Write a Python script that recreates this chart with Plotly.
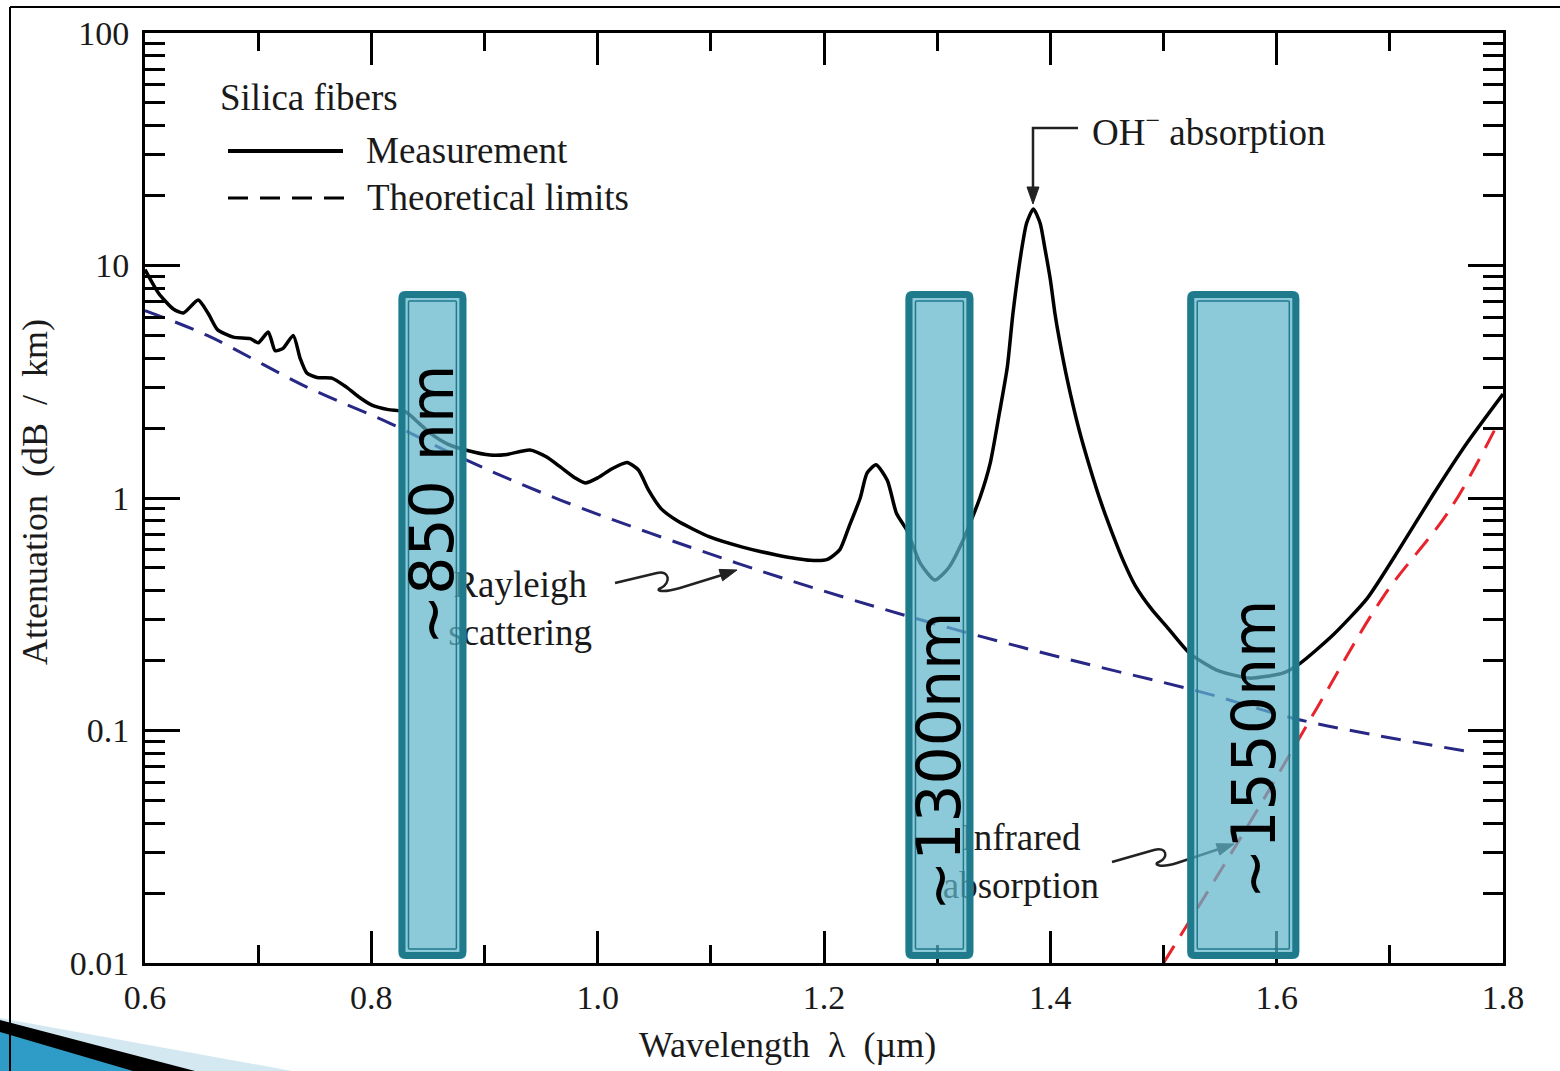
import math
import plotly.graph_objects as go

# ---------------- data ----------------
meas_wl = [0.600, 0.612, 0.625, 0.634, 0.647, 0.656, 0.664, 0.678, 0.693, 0.700, 0.709, 0.715,
           0.722, 0.731, 0.737, 0.743, 0.752, 0.765, 0.778, 0.790, 0.801, 0.815, 0.830, 0.842,
           0.852, 0.868, 0.885, 0.905, 0.920, 0.940, 0.955, 0.967, 0.980, 0.989, 1.000, 1.012,
           1.026, 1.036, 1.045, 1.056, 1.070, 1.099, 1.128, 1.158, 1.188, 1.203, 1.214, 1.222,
           1.232, 1.238, 1.246, 1.256, 1.264, 1.273, 1.285, 1.298, 1.310, 1.323, 1.338, 1.347,
           1.355, 1.362, 1.367, 1.375, 1.379, 1.385, 1.391, 1.395, 1.400, 1.404, 1.408, 1.415,
           1.425, 1.435, 1.445, 1.455, 1.465, 1.475, 1.490, 1.503, 1.523, 1.547, 1.576, 1.606,
           1.621, 1.650, 1.680, 1.709, 1.738, 1.768, 1.800]
meas_att = [9.6, 7.6, 6.5, 6.25, 7.1, 6.2, 5.3, 4.92, 4.85, 4.65, 5.17, 4.3,
            4.4, 5.0, 4.0, 3.45, 3.3, 3.28, 3.0, 2.7, 2.5, 2.4, 2.35, 2.1,
            1.9, 1.7, 1.6, 1.53, 1.54, 1.61, 1.5, 1.36, 1.22, 1.16, 1.22, 1.33,
            1.42, 1.32, 1.08, 0.9, 0.8, 0.68, 0.615, 0.569, 0.54, 0.545, 0.6, 0.75,
            1.0, 1.28, 1.39, 1.19, 0.86, 0.73, 0.525, 0.444, 0.5, 0.66, 1.01, 1.42,
            2.32, 3.66, 6.25, 12.0, 15.2, 17.5, 15.2, 12.0, 8.7, 6.25, 4.8, 3.22,
            2.0, 1.35, 0.95, 0.7, 0.53, 0.42, 0.33, 0.279, 0.215, 0.182, 0.168, 0.177,
            0.195, 0.258, 0.37, 0.61, 1.03, 1.72, 2.8]

rayleigh_wl = [0.600, 0.655, 0.743, 0.816, 0.878, 0.967, 1.123, 1.217, 1.302, 1.420, 1.532, 1.621, 1.771]
rayleigh_att = [6.4, 5.0, 3.0, 2.1, 1.5, 0.98, 0.525, 0.375, 0.284, 0.2, 0.147, 0.111, 0.081]

infrared_wl = [1.500, 1.576, 1.636, 1.694, 1.753, 1.797]
infrared_att = [0.01, 0.040, 0.126, 0.375, 0.89, 2.16]

x_ticks = [0.6, 0.8, 1.0, 1.2, 1.4, 1.6, 1.8]
x_ticklabels = ["0.6", "0.8", "1.0", "1.2", "1.4", "1.6", "1.8"]
x_minor = [0.7, 0.9, 1.1, 1.3, 1.5, 1.7]
y_ticks = [0.01, 0.1, 1, 10, 100]
y_ticklabels = ["0.01", "0.1", "1", "10", "100"]
y_minor = [m * d for d in (0.01, 0.1, 1, 10) for m in range(2, 10)]

window_labels = ["~850 nm", "~1300nm", "~1550nm"]
window_start = [0.824, 1.272, 1.521]
window_end = [0.884, 1.332, 1.620]

# ---------------- geometry helpers ----------------
W, H = 1560, 1071
L, R, T, B = 145, 57, 33, 108
PW, PH = W - L - R, H - T - B
X0, X1 = 0.6, 1.8
DX = (X1 - X0) / PW  # data units per pixel


def px(x):
    return (x - L) / PW


def py(y):
    return (H - B - y) / PH


def ppath(cmds):
    out = []
    for c, pts in cmds:
        s = c + " ".join(f"{px(a):.5f},{py(b):.5f}" for a, b in pts)
        out.append(s)
    return " ".join(out)


def head(tip, frm, length=17, half=6):
    ux, uy = tip[0] - frm[0], tip[1] - frm[1]
    n = math.hypot(ux, uy)
    ux, uy = ux / n, uy / n
    bx, by = tip[0] - length * ux, tip[1] - length * uy
    p1 = (bx - half * uy, by + half * ux)
    p2 = (bx + half * uy, by - half * ux)
    return ppath([("M", [tip]), ("L", [p1]), ("L", [p2])]) + " Z"


def rrect(x0, x1, y0, y1, inset_px, r_px):
    ix, iy = inset_px * DX, inset_px / PH
    x0, x1, y0, y1 = x0 + ix, x1 - ix, y0 + iy, y1 - iy
    rx, ry = r_px * DX, r_px / PH
    return (f"M{x0+rx},{y0} L{x1-rx},{y0} Q{x1},{y0} {x1},{y0+ry} L{x1},{y1-ry} "
            f"Q{x1},{y1} {x1-rx},{y1} L{x0+rx},{y1} Q{x0},{y1} {x0},{y1-ry} "
            f"L{x0},{y0+ry} Q{x0},{y0} {x0+rx},{y0} Z")


SERIF = "Liberation Serif"
TXT = "#1a1a1a"

fig = go.Figure()

# labels that sit underneath the highlight boxes
fig.add_trace(go.Scatter(x=[0.9315], y=[0.3235], mode="text", text=["Rayleigh<br>scattering"],
                         textfont=dict(family=SERIF, size=37, color=TXT), showlegend=False,
                         hoverinfo="skip"))
fig.add_trace(go.Scatter(x=[1.3740], y=[0.02642], mode="text", text=["Infrared<br>absorption"],
                         textfont=dict(family=SERIF, size=37, color=TXT), showlegend=False,
                         hoverinfo="skip"))

fig.add_trace(go.Scatter(x=rayleigh_wl, y=rayleigh_att, mode="lines", showlegend=False,
                         line=dict(color="#272785", width=3, dash="20px,12px", shape="spline")))
fig.add_trace(go.Scatter(x=infrared_wl, y=infrared_att, mode="lines", showlegend=False,
                         line=dict(color="#e8232b", width=3, dash="20px,12px", shape="spline")))
fig.add_trace(go.Scatter(x=meas_wl, y=meas_att, mode="lines", showlegend=False,
                         line=dict(color="black", width=3.5, shape="spline", smoothing=0.6)))

shapes = []
K = dict(xref="paper", yref="paper")

# wavy arrows
ray_path = ppath([("M", [(615, 583)]), ("L", [(657, 573)]),
                  ("C", [(670, 570), (671, 583), (661, 588)]),
                  ("C", [(654, 591), (663, 593), (680, 588)]),
                  ("L", [(722, 575)])])
shapes.append(dict(type="path", path=ray_path, line=dict(color="#222", width=2.5), **K))
shapes.append(dict(type="path", path=head((737, 570), (680, 588)), fillcolor="#222",
                   line=dict(color="#222", width=1), **K))
ir_path = ppath([("M", [(1112, 862)]), ("L", [(1154, 850)]),
                 ("C", [(1167, 846), (1169, 858), (1159, 862)]),
                 ("C", [(1152, 865), (1161, 868), (1177, 863)]),
                 ("L", [(1219, 849)])])
shapes.append(dict(type="path", path=ir_path, line=dict(color="#222", width=2.5), **K))
shapes.append(dict(type="path", path=head((1234, 844), (1177, 863)), fillcolor="#222",
                   line=dict(color="#222", width=1), **K))

# OH arrow
shapes.append(dict(type="path", path=ppath([("M", [(1078, 128)]), ("L", [(1033, 128)]),
                                            ("L", [(1033, 188)])]),
                   line=dict(color="#222", width=2.5), **K))
shapes.append(dict(type="path", path=head((1033, 204), (1033, 150)), fillcolor="#222",
                   line=dict(color="#222", width=1), **K))

# legend keys
shapes.append(dict(type="line", x0=px(228), x1=px(343), y0=py(151), y1=py(151),
                   line=dict(color="black", width=4), **K))
shapes.append(dict(type="line", x0=px(228), x1=px(352), y0=py(198), y1=py(198),
                   line=dict(color="black", width=3, dash="20px,12px"), **K))

# highlight windows
ytop, ybot = py(291), py(959)
for s, e in zip(window_start, window_end):
    shapes.append(dict(type="path", xref="x", yref="paper", path=rrect(s, e, ybot, ytop, 0, 6),
                       fillcolor="rgb(96,182,204)", opacity=0.72, line=dict(width=0)))
    shapes.append(dict(type="path", xref="x", yref="paper", path=rrect(s, e, ybot, ytop, 3.5, 4),
                       fillcolor="rgba(0,0,0,0)", line=dict(color="#1f7a8c", width=7)))
    shapes.append(dict(type="path", xref="x", yref="paper", path=rrect(s, e, ybot, ytop, 10, 1),
                       fillcolor="rgba(0,0,0,0)", line=dict(color="#1f7a8c", width=1.5)))

# slide decorations
shapes.append(dict(type="path", path=ppath([("M", [(0, 1018)]), ("L", [(292, 1071)]), ("L", [(0, 1071)])]) + " Z",
                   fillcolor="#d3e8f0", line=dict(width=0), **K))
shapes.append(dict(type="path", path=ppath([("M", [(0, 1020)]), ("L", [(195, 1071)]), ("L", [(0, 1071)])]) + " Z",
                   fillcolor="black", line=dict(width=0), **K))
shapes.append(dict(type="path", path=ppath([("M", [(0, 1032)]), ("L", [(133, 1071)]), ("L", [(0, 1071)])]) + " Z",
                   fillcolor="#2f9cc7", line=dict(width=0), **K))
shapes.append(dict(type="line", x0=px(10), x1=px(1560), y0=py(7), y1=py(7),
                   line=dict(color="black", width=2), **K))
shapes.append(dict(type="line", x0=px(10), x1=px(10), y0=py(7), y1=py(1071),
                   line=dict(color="black", width=2), **K))

ann = []


def A(text, x, y, size=37, xanchor="left", angle=0, family=SERIF, color=TXT):
    ann.append(dict(text=text, x=px(x), y=py(y), xref="paper", yref="paper", showarrow=False,
                    xanchor=xanchor, yanchor="middle", textangle=angle,
                    font=dict(family=family, size=size, color=color)))


A("Silica fibers", 218, 97)
A("Measurement", 364, 151)
A("Theoretical limits", 365, 197)
A("OH<sup>−</sup> absorption", 1090, 130)
for lab, cx, cy in zip(window_labels, [432, 939, 1254], [505, 762, 750]):
    A(lab, cx, cy, size=60, xanchor="center", angle=-90, family="DejaVu Sans", color="black")
A("Wavelength\u00a0\u00a0λ\u00a0\u00a0(µm)", 787, 1045, size=36, xanchor="center")
A("Attenuation\u00a0\u00a0(dB\u00a0\u00a0/\u00a0\u00a0km)", 35, 492, size=36, xanchor="center", angle=-90)

axis_common = dict(showline=True, linewidth=3, linecolor="black", mirror="ticks",
                   ticks="inside", tickwidth=3, tickcolor="black", showgrid=False, zeroline=False,
                   tickfont=dict(family=SERIF, size=34, color=TXT))

fig.update_layout(
    width=W, height=H, margin=dict(l=L, r=R, t=T, b=B),
    paper_bgcolor="white", plot_bgcolor="white",
    shapes=shapes, annotations=ann, showlegend=False,
    xaxis=dict(range=[X0, X1], tickmode="array", tickvals=x_ticks, ticktext=x_ticklabels,
               ticklen=32, ticklabelstandoff=2,
               minor=dict(tickmode="array", tickvals=x_minor, ticklen=18, tickwidth=3,
                          tickcolor="black", ticks="inside"),
               **axis_common),
    yaxis=dict(type="log", range=[-2, 2], tickmode="array", tickvals=y_ticks, ticktext=y_ticklabels,
               ticklen=35, ticklabelstandoff=6,
               minor=dict(tickmode="array", tickvals=y_minor, ticklen=20, tickwidth=3,
                          tickcolor="black", ticks="inside"),
               **axis_common),
)

fig.write_html("out.html", config={"displayModeBar": False},
               post_script="document.body.style.margin='0';document.body.style.overflow='hidden';")
